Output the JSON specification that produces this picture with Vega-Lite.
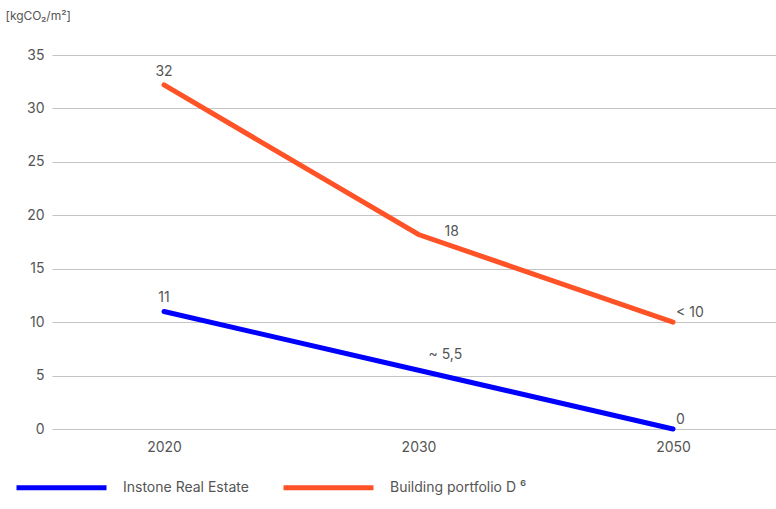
{
  "$schema": "https://vega.github.io/schema/vega-lite/v6.json",
  "width": 724,
  "height": 374,
  "autosize": "none",
  "padding": {"left": 52, "top": 55, "right": 0, "bottom": 80},
  "background": "white",
  "config": {
    "font": "Inter",
    "view": {"stroke": null},
    "text": {"font": "Inter", "fontSize": 14, "color": "#555555"}
  },
  "data": {
    "values": [
      {"year": "2020", "series": "Instone Real Estate", "value": 11, "label": "11"},
      {"year": "2030", "series": "Instone Real Estate", "value": 5.5, "label": "~ 5,5"},
      {"year": "2050", "series": "Instone Real Estate", "value": 0, "label": "0"},
      {"year": "2020", "series": "Building portfolio D ⁶", "value": 32.2, "label": "32"},
      {"year": "2030", "series": "Building portfolio D ⁶", "value": 18.2, "label": "18"},
      {"year": "2050", "series": "Building portfolio D ⁶", "value": 10, "label": "< 10"}
    ]
  },
  "encoding": {
    "x": {
      "field": "year", "type": "ordinal",
      "scale": {"type": "point", "padding": 0.4224, "align": 0.521},
      "axis": {"title": null, "domain": false, "ticks": false, "labelAngle": 0, "labelPadding": 11, "labelFontSize": 14, "labelColor": "#555555", "labelFont": "Inter", "grid": false}
    },
    "y": {
      "field": "value", "type": "quantitative",
      "scale": {"domain": [0, 35]},
      "axis": {
        "title": "[kgCO₂/m²]", "titleAngle": 0, "titleAlign": "left", "titleBaseline": "middle",
        "titleX": -47, "titleY": -40, "titleFontSize": 12, "titleFontWeight": "normal", "titleColor": "#555555", "titleFont": "Inter",
        "values": [0, 5, 10, 15, 20, 25, 30, 35],
        "domain": false, "ticks": false, "labelPadding": 8, "labelFontSize": 14, "labelColor": "#555555", "labelFont": "Inter",
        "gridColor": "#c4c4c4", "gridWidth": 1
      }
    }
  },
  "layer": [
    {
      "mark": {"type": "line", "strokeWidth": 5, "strokeCap": "round"},
      "encoding": {
        "color": {
          "field": "series", "type": "nominal",
          "scale": {"domain": ["Instone Real Estate", "Building portfolio D ⁶"], "range": ["#0000ff", "#ff5226"]},
          "legend": {
            "title": null, "orient": "none", "direction": "horizontal",
            "legendX": -38, "legendY": 385,
            "symbolType": "stroke", "symbolSize": 8100, "symbolStrokeWidth": 5,
            "labelFontSize": 14, "labelColor": "#555555", "labelFont": "Inter", "labelOffset": 14,
            "columnPadding": 24, "labelLimit": 300
          }
        }
      }
    },
    {
      "transform": [{"filter": "datum.year == '2020'"}],
      "mark": {"type": "text", "align": "center", "baseline": "middle", "dy": -13},
      "encoding": {"text": {"field": "label"}}
    },
    {
      "transform": [{"filter": "datum.year == '2030' && datum.value > 10"}],
      "mark": {"type": "text", "align": "left", "baseline": "middle", "dx": 26, "dy": -3},
      "encoding": {"text": {"field": "label"}}
    },
    {
      "transform": [{"filter": "datum.year == '2030' && datum.value < 10"}],
      "mark": {"type": "text", "align": "left", "baseline": "middle", "dx": 10, "dy": -15},
      "encoding": {"text": {"field": "label"}}
    },
    {
      "transform": [{"filter": "datum.year == '2050'"}],
      "mark": {"type": "text", "align": "left", "baseline": "middle", "dx": 3, "dy": -9},
      "encoding": {"text": {"field": "label"}}
    }
  ]
}
